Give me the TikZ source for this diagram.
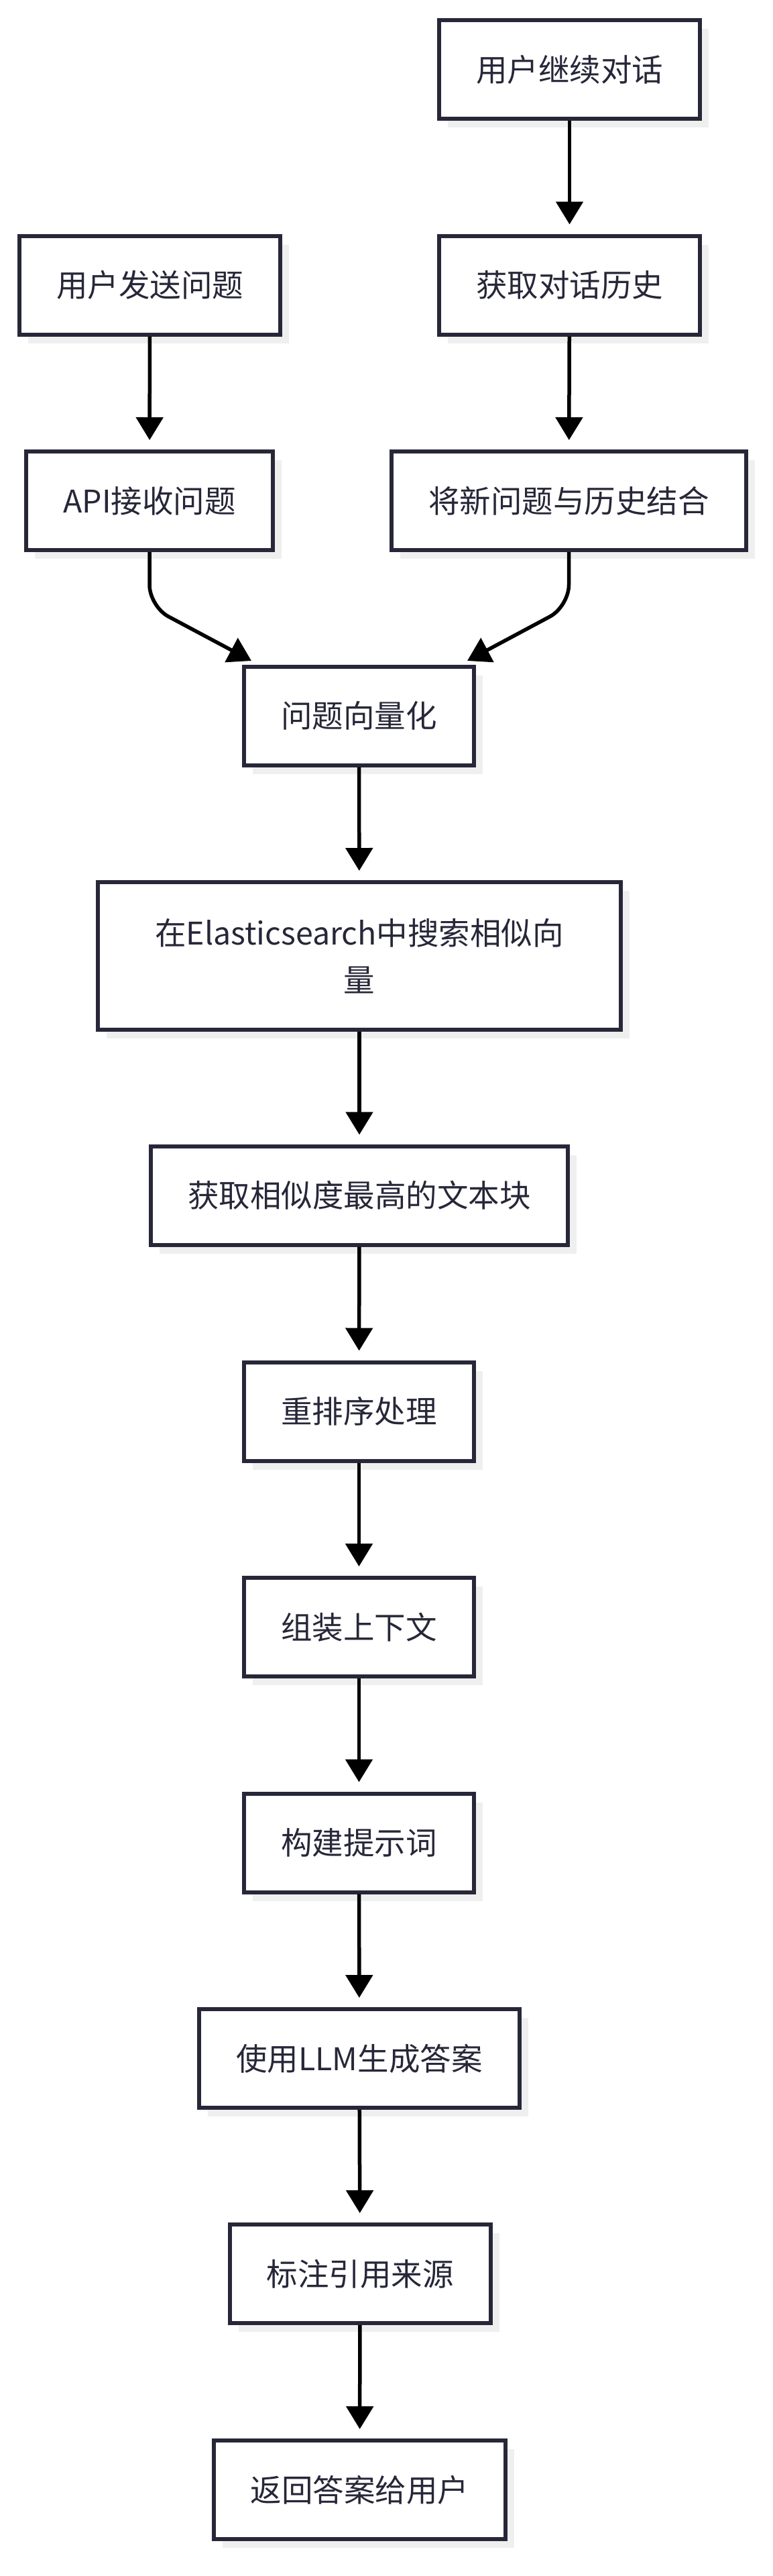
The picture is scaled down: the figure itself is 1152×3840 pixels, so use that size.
\documentclass[tikz,border=0pt]{standalone}
\usepackage{fontspec}
\setmainfont{Noto Sans CJK SC}
\usetikzlibrary{arrows.meta, shadows}
\definecolor{boxline}{RGB}{39,39,57}
\definecolor{shadowgray}{RGB}{239,239,239}

\begin{document}
\begin{tikzpicture}[x=0.5pt, y=-0.5pt,
	box/.style={draw=boxline, line width=3pt, fill=white, text=boxline, inner xsep=27.5pt, inner ysep=0pt, minimum height=73.5pt, align=center, font=\fontsize{23.25pt}{35pt}\selectfont, drop shadow={shadow xshift=6.5pt, shadow yshift=-6.5pt, fill=shadowgray, opacity=1}},
	arr/.style={draw=black, line width=2.75pt, -{Triangle[length=17pt, width=20pt]}}]
					\fill[white] (0,0) rectangle (1152,3840);
					\useasboundingbox (0,0) rectangle (1152,3840);
					
					\node[box] (cont) at (849.5,103.5) {用户继续对话};
					\node[box] (send) at (223.5,425) {用户发送问题};
					\node[box] (hist) at (849.5,425) {获取对话历史};
					\node[box] (api) at (223,746.5) {API接收问题};
					\node[box] (merge) at (848.5,746.5) {将新问题与历史结合};
					\node[box] (vec) at (535.5,1067) {问题向量化};
					\node[box, minimum width=390pt, minimum height=110pt] (search) at (536,1425) {在Elasticsearch中搜索相似向\\量};
					\node[box] (topk) at (536,1782) {获取相似度最高的文本块};
					\node[box] (rerank) at (535.5,2104) {重排序处理};
					\node[box] (ctx) at (535.5,2425.5) {组装上下文};
					\node[box] (prompt) at (535.5,2747) {构建提示词};
					\node[box] (llm) at (536,3068.5) {使用LLM生成答案};
					\node[box] (cite) at (537,3389.5) {标注引用来源};
					\node[box] (reply) at (536.5,3711.5) {返回答案给用户};
					
					\coordinate (vl) at (375,985);
					\coordinate (vr) at (697,985);
					
					\draw[arr, shorten >=7pt] (cont) -- (hist);
					\draw[arr, shorten >=7pt] (send) -- (api);
					\draw[arr, shorten >=7pt] (hist) -- (merge);
					\draw[arr, rounded corners=16pt] (api.south) -- ++(0,81) -- (vl);
					\draw[arr, rounded corners=16pt] (merge.south) -- ++(0,81) -- (vr);
					\draw[arr, shorten >=7pt] (vec) -- (search);
					\draw[arr, shorten >=7pt] (search) -- (topk);
					\draw[arr, shorten >=7pt] (topk) -- (rerank);
					\draw[arr, shorten >=7pt] (rerank) -- (ctx);
					\draw[arr, shorten >=7pt] (ctx) -- (prompt);
					\draw[arr, shorten >=7pt] (prompt) -- (llm);
					\draw[arr, shorten >=7pt] (llm) -- (cite);
					\draw[arr, shorten >=7pt] (cite) -- (reply);
				\end{tikzpicture}
\end{document}
